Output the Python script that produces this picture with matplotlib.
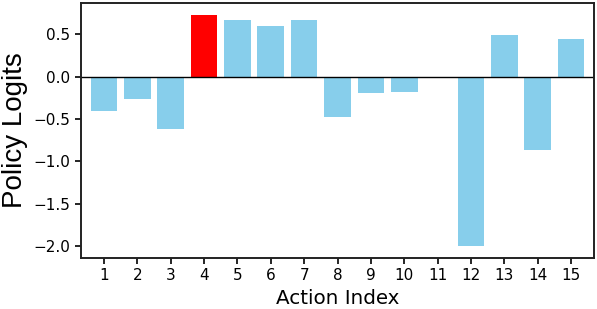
import matplotlib
matplotlib.use("Agg")
import matplotlib.pyplot as plt

actions = list(range(1, 16))
logits = [-0.40, -0.26, -0.62, 0.73, 0.67, 0.59, 0.67, -0.48, -0.19, -0.18, 0.0, -2.00, 0.49, -0.86, 0.44]
highlight = 4

colors = ["red" if a == highlight else "skyblue" for a in actions]

fig = plt.figure(figsize=(5.97, 3.09), dpi=100)
ax = fig.add_axes([81/597, 1 - 258/309, (594-81)/597, (258-3)/309])
ax.bar(actions, logits, width=0.8, color=colors)
ax.axhline(0, color="black", linewidth=1.0)
ax.set_xticks(actions)
ax.set_xticklabels([str(a) for a in actions])
ax.set_xlim(0.31, 15.69)
ax.set_yticks([-2.0, -1.5, -1.0, -0.5, 0.0, 0.5])
for s in ax.spines.values():
    s.set_linewidth(1.4)
    s.set_color("#222222")
ax.tick_params(labelsize=11, width=1.2, length=4)
ax.set_xlabel("Action Index", fontsize=14.3)
ax.set_ylabel("Policy Logits", fontsize=20, family="Liberation Sans")
fig.savefig("out.png", dpi=100)
